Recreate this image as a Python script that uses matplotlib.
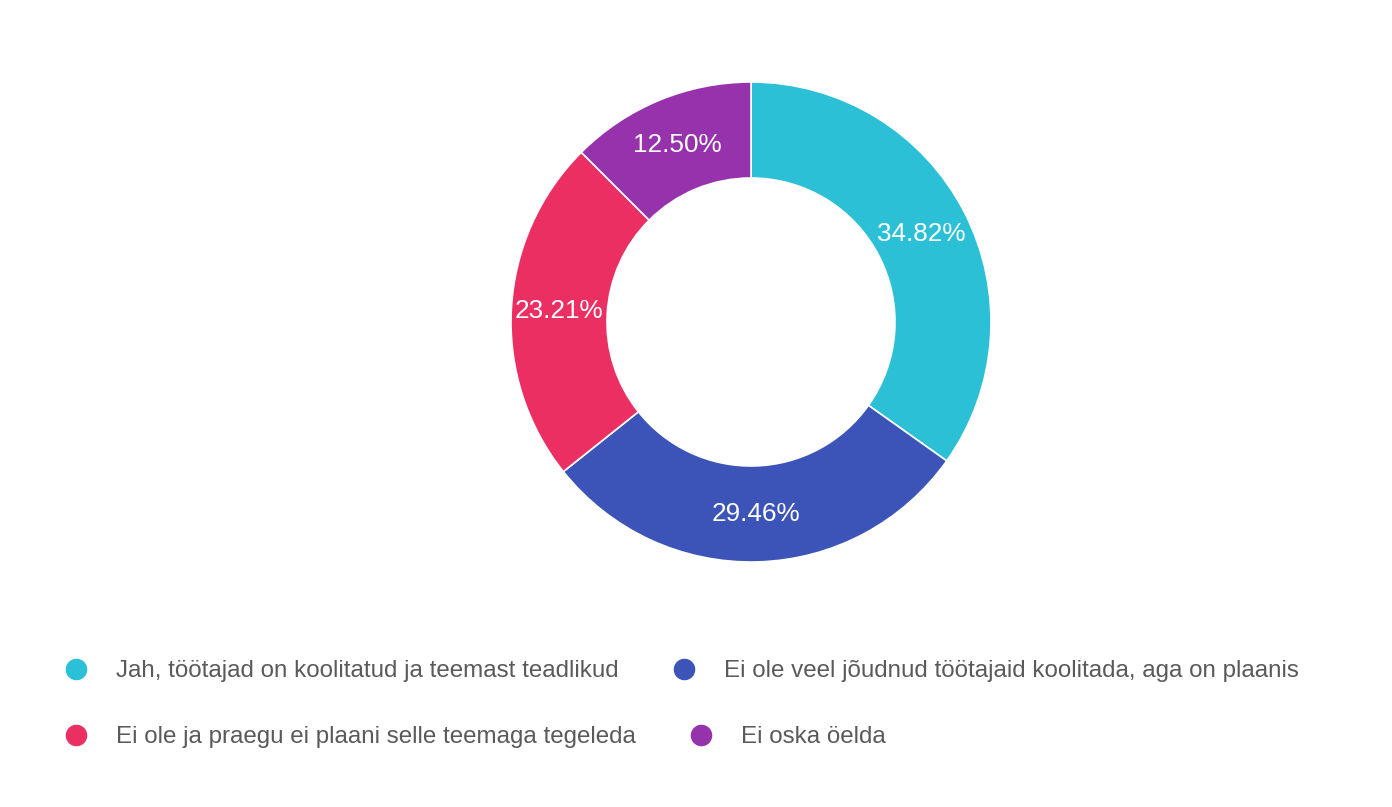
import matplotlib.pyplot as plt
from matplotlib.lines import Line2D

plt.rcParams['font.family'] = ['Liberation Sans', 'DejaVu Sans']

# andmed
labels = [
    "Jah, töötajad on koolitatud ja teemast teadlikud",
    "Ei ole veel jõudnud töötajaid koolitada, aga on plaanis",
    "Ei ole ja praegu ei plaani selle teemaga tegeleda",
    "Ei oska öelda",
]
shares = [34.82, 29.46, 23.21, 12.50]
colors = ['#2cc0d6', '#3c54b8', '#eb2f63', '#9632ab']

W, H = 1392, 807
fig = plt.figure(figsize=(W / 100, H / 100), dpi=100)

# donut: keskpunkt (751, 322) px, välisraadius 240 px
cx, cy, r = 751, 322, 240
ax = fig.add_axes([(cx - r) / W, (H - cy - r) / H, 2 * r / W, 2 * r / H])
wedges, texts, autotexts = ax.pie(
    shares, colors=colors, startangle=90, counterclock=False, radius=1,
    autopct='%.2f%%', pctdistance=0.8,
    wedgeprops=dict(width=0.4, edgecolor='white', linewidth=1.2),
    textprops=dict(color='white', fontsize=18.8))
ax.set_xlim(-1, 1)
ax.set_ylim(-1, 1)
ax.set_aspect('equal')
ax.axis('off')

# legend kahes reas (px koordinaadid)
legend_pos = [(76, 669), (684, 669), (76, 735), (701, 735)]
for (mx, my), lab, col in zip(legend_pos, labels, colors):
    fig.add_artist(Line2D([mx / W], [1 - my / H], marker='o', markersize=14.5,
                          color=col, linestyle='none', transform=fig.transFigure))
    fig.text((mx + 40) / W, 1 - (my + 2) / H, lab, color='#5a5a5a', fontsize=17.4,
             va='center', ha='left')

fig.savefig('out.png', dpi=100, facecolor='white')
